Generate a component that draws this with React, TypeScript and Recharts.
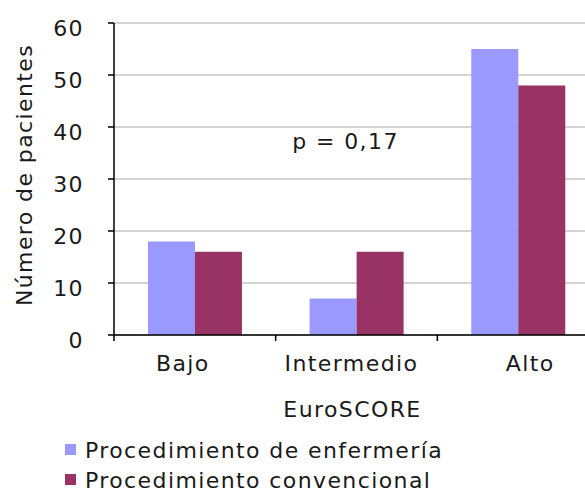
import { Bar, BarChart, CartesianGrid, ReferenceDot, XAxis, YAxis } from 'recharts';

// EuroSCORE groups and patient counts per procedure
const CATEGORIES = ['Bajo', 'Intermedio', 'Alto'];
const ENFERMERIA = [18, 7, 55];
const CONVENCIONAL = [16, 16, 48];
const Y_TICKS = [0, 10, 20, 30, 40, 50, 60];

const SERIES = [
  { key: 'enfermeria', name: 'Procedimiento de enfermería', color: '#9999ff' },
  { key: 'convencional', name: 'Procedimiento convencional', color: '#993366' },
];

const P_VALUE = 'p = 0,17';
const P_VALUE_AT = { category: 'Intermedio', y: 37.3 };

const data = CATEGORIES.map((category, i) => ({
  category,
  enfermeria: ENFERMERIA[i],
  convencional: CONVENCIONAL[i],
}));

const CHART_W = 600;
const CHART_H = 490;
const MARGIN = { top: 23, right: 1, bottom: 65, left: 0 };
const Y_AXIS_W = 114;
const X_AXIS_H = 90;
const PLOT_W = CHART_W - MARGIN.left - MARGIN.right - Y_AXIS_W;
const BAND = PLOT_W / CATEGORIES.length;

const FONT = {
  fontFamily: '"DejaVu Sans", Verdana, sans-serif',
  fontSize: 22,
  letterSpacing: 1.4,
};
const TEXT_COLOR = '#1a1a1a';
// category labels sit a little off the band centres
const LABEL_NUDGE = [-12, -5, 12];

function CategoryTick({ x, y, payload, index }: any) {
  const left = x - BAND / 2;
  const right = x + BAND / 2;
  return (
    <g>
      <line x1={left} x2={left} y1={y} y2={y + 6} stroke="#000" strokeWidth={1.5} />
      {index === CATEGORIES.length - 1 && (
        <line x1={right} x2={right} y1={y} y2={y + 6} stroke="#000" strokeWidth={1.5} />
      )}
      <text
        x={x + (LABEL_NUDGE[index] ?? 0)}
        y={y + 20}
        dy="0.71em"
        textAnchor="middle"
        fill={TEXT_COLOR}
        style={FONT}
      >
        {payload.value}
      </text>
    </g>
  );
}

function ValueTick({ x, y, payload }: any) {
  return (
    <text x={x} y={y + 5} dy="0.36em" textAnchor="end" fill={TEXT_COLOR} style={FONT}>
      {payload.value}
    </text>
  );
}

function YTitle(props: any) {
  const vb = props.viewBox ?? { x: 0, y: MARGIN.top, width: Y_AXIS_W, height: 312 };
  const cx = vb.x + 24;
  const cy = vb.y + vb.height / 2 - 4;
  return (
    <text
      x={cx}
      y={cy}
      transform={`rotate(-90, ${cx}, ${cy})`}
      textAnchor="middle"
      dominantBaseline="central"
      fill={TEXT_COLOR}
      style={FONT}
    >
      Número de pacientes
    </text>
  );
}

function XTitle(props: any) {
  const vb = props.viewBox ?? { x: Y_AXIS_W, y: CHART_H - MARGIN.bottom - X_AXIS_H, width: PLOT_W, height: X_AXIS_H };
  return (
    <text x={vb.x + vb.width / 2 - 4} y={vb.y + 82} textAnchor="middle" fill={TEXT_COLOR} style={FONT}>
      EuroSCORE
    </text>
  );
}

function PValue(props: any) {
  return (
    <text
      x={props.cx - 11}
      y={props.cy}
      textAnchor="middle"
      dominantBaseline="central"
      fill={TEXT_COLOR}
      style={FONT}
    >
      {P_VALUE}
    </text>
  );
}

export default function App() {
  return (
    <div
      style={{
        position: 'fixed',
        left: 0,
        top: 0,
        width: 585,
        height: 490,
        overflow: 'hidden',
        background: '#fff',
      }}
    >
      <BarChart
        width={CHART_W}
        height={CHART_H}
        data={data}
        margin={MARGIN}
        barCategoryGap="21%"
        barGap={0}
      >
        <CartesianGrid vertical={false} stroke="#c4c4c4" strokeWidth={1.5} />
        <XAxis
          dataKey="category"
          height={X_AXIS_H}
          axisLine={{ stroke: '#000', strokeWidth: 1.5 }}
          tickLine={false}
          tickSize={0}
          tickMargin={0}
          tick={<CategoryTick />}
          interval={0}
          label={XTitle}
        />
        <YAxis
          width={Y_AXIS_W}
          domain={[0, 60]}
          ticks={Y_TICKS}
          interval={0}
          axisLine={{ stroke: '#000', strokeWidth: 1.5 }}
          tickLine={{ stroke: '#000', strokeWidth: 1.5 }}
          tickSize={6}
          tickMargin={24}
          tick={<ValueTick />}
          label={YTitle}
        />
        {SERIES.map((s) => (
          <Bar key={s.key} dataKey={s.key} name={s.name} fill={s.color} isAnimationActive={false} />
        ))}
        <ReferenceDot x={P_VALUE_AT.category} y={P_VALUE_AT.y} r={1} shape={PValue} />
      </BarChart>

      <svg
        width={585}
        height={70}
        style={{ position: 'absolute', left: 0, top: 420 }}
      >
        {SERIES.map((s, i) => (
          <g key={s.key}>
            <rect x={65} y={24 + i * 30} width={11} height={11} fill={s.color} />
            <text x={85} y={38 + i * 30} fill={TEXT_COLOR} style={FONT}>
              {s.name}
            </text>
          </g>
        ))}
      </svg>
    </div>
  );
}
